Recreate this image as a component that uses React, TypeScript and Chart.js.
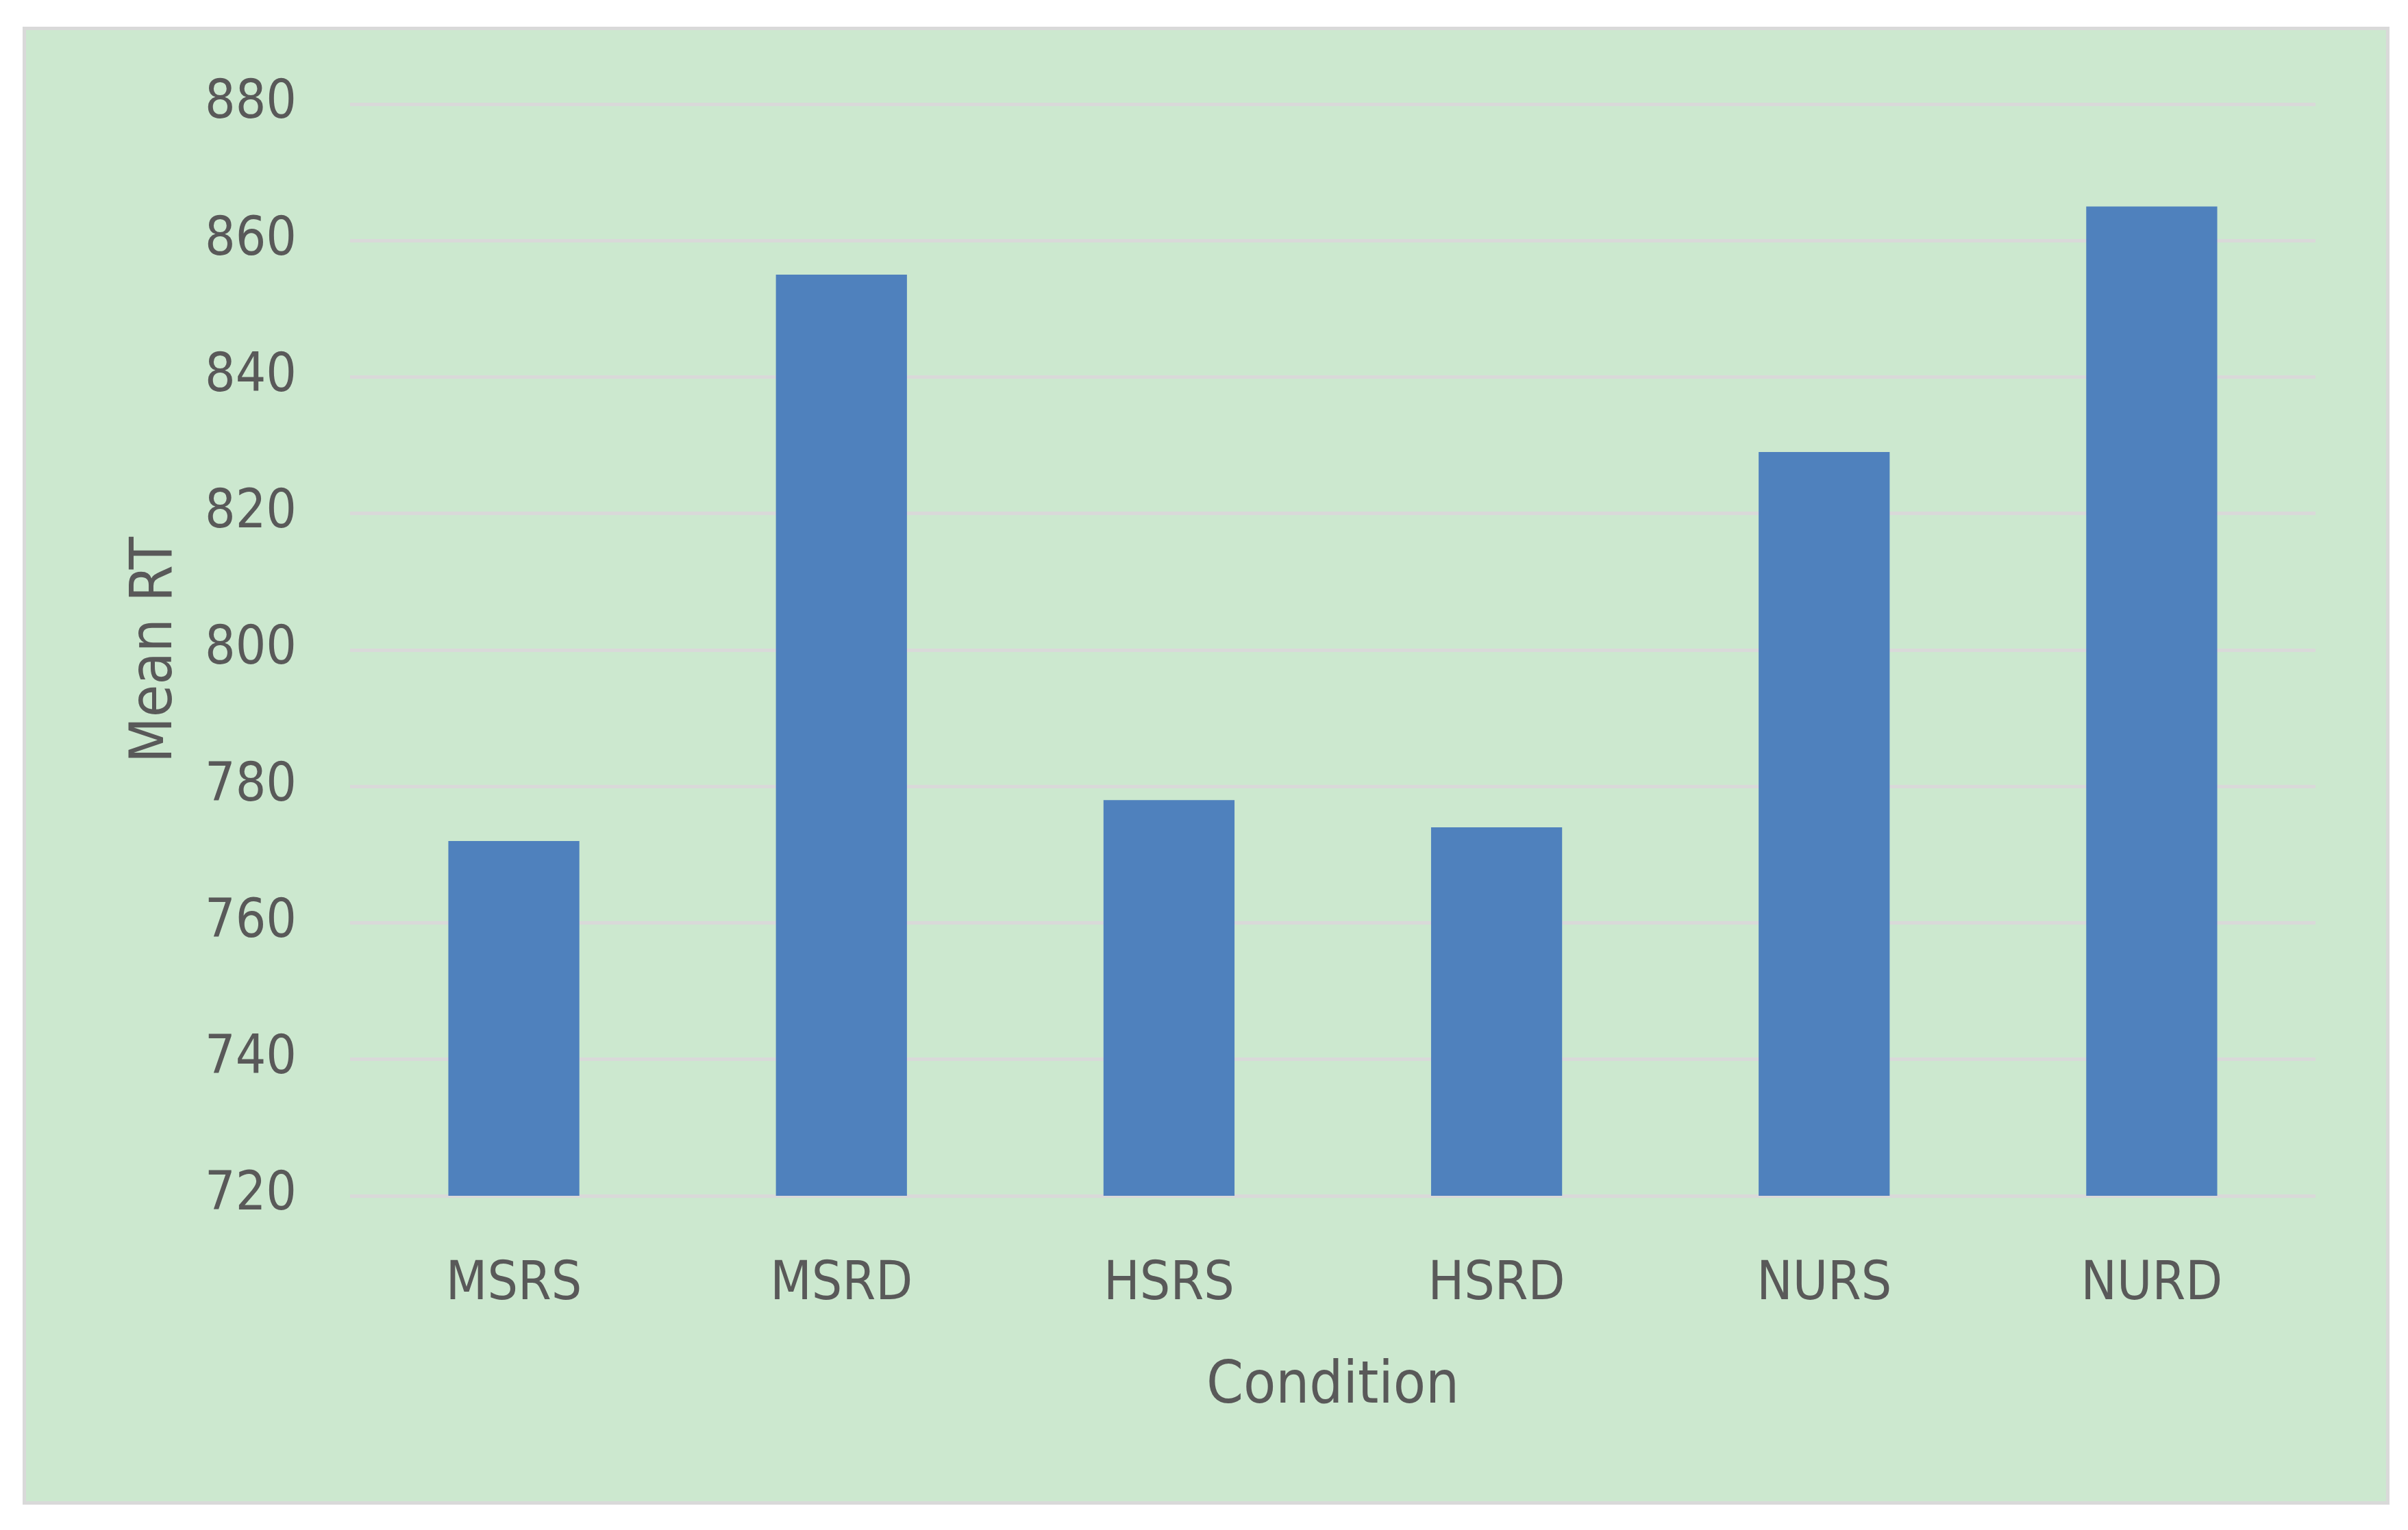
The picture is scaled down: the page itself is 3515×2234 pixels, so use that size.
import React, { useEffect, useRef } from "react";
import { Chart, registerables } from "chart.js";

Chart.register(...registerables);

const categories = ["MSRS", "MSRD", "HSRS", "HSRD", "NURS", "NURD"];
const meanRT = [772, 855, 778, 774, 829, 865];
const yMin = 720;
const yMax = 880;
const yStep = 20;
const xTitle = "Condition";
const yTitle = "Mean RT";

const FONT = "'DejaVu Sans Condensed', 'DejaVu Sans', 'Liberation Sans', sans-serif";
const TEXT = "#595959";

export default function App() {
  const ref = useRef<HTMLCanvasElement | null>(null);

  useEffect(() => {
    if (!ref.current) return;
    const chart = new Chart(ref.current, {
      type: "bar",
      data: {
        labels: categories,
        datasets: [
          {
            label: yTitle,
            data: meanRT,
            backgroundColor: "#4F81BD",
            borderWidth: 0,
            categoryPercentage: 1,
            barPercentage: 0.4,
          },
        ],
      },
      options: {
        animation: false,
        responsive: false,
        maintainAspectRatio: false,
        layout: { padding: { top: 108, right: 103, left: 0, bottom: 0 } },
        plugins: { legend: { display: false }, tooltip: { enabled: false } },
        scales: {
          x: {
            grid: { display: false, drawTicks: false },
            border: { display: false },
            ticks: { color: TEXT, font: { family: FONT, size: 78 }, padding: 84 },
            title: {
              display: true,
              text: xTitle,
              color: TEXT,
              font: { family: FONT, size: 86 },
              padding: { top: 0, bottom: 115 },
            },
            afterFit: (scale: any) => {
              scale.height = 446;
              scale.paddingLeft = 0;
              scale.paddingRight = 0;
            },
          },
          y: {
            min: yMin,
            max: yMax,
            ticks: {
              stepSize: yStep,
              color: TEXT,
              font: { family: FONT, size: 78 },
              padding: 78,
            },
            grid: { color: "#D9D9D9", lineWidth: 5, drawTicks: false },
            border: { display: false },
            title: {
              display: true,
              text: yTitle,
              color: TEXT,
              font: { family: FONT, size: 86 },
              padding: { top: 138, bottom: 0 },
            },
            afterFit: (scale: any) => {
              scale.width = 473;
              scale.paddingTop = 0;
              scale.paddingBottom = 0;
            },
          },
        },
      },
    });
    return () => chart.destroy();
  }, []);

  return (
    <div
      style={{
        position: "fixed",
        left: 0,
        top: 0,
        width: 3515,
        height: 2234,
        background: "#FFFFFF",
      }}
    >
      <div
        style={{
          position: "absolute",
          left: 33,
          top: 39,
          width: 3455,
          height: 2158,
          boxSizing: "border-box",
          border: "5px solid #D9D9D9",
          background: "#CCE8CF",
        }}
      >
        <canvas ref={ref} width={3445} height={2148} style={{ display: "block" }} />
      </div>
    </div>
  );
}
